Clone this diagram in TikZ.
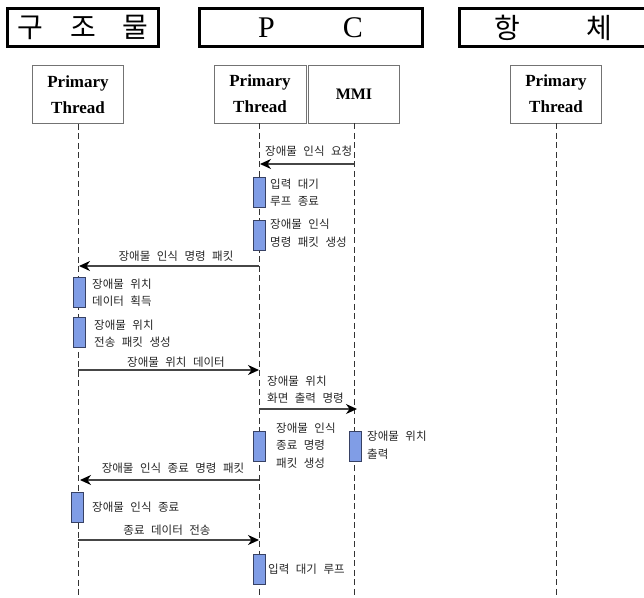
\documentclass[tikz,border=0pt]{standalone}
\usepackage{fontspec}
\setmainfont{Liberation Serif}
\newfontfamily\kr{Noto Sans CJK KR}
\newfontfamily\krhead{Noto Sans CJK KR}
\usetikzlibrary{arrows.meta}
\definecolor{barfill}{RGB}{128,157,230}
\definecolor{bardraw}{RGB}{55,65,100}
\definecolor{msgcol}{RGB}{70,70,70}
\newcommand\lblfont{\kr\fontsize{11.5}{17.5}\selectfont\spaceskip=6.5pt plus 1pt minus 0pt\relax}
\tikzset{
  headbox/.style={draw=black, line width=3pt, inner sep=0pt, minimum height=38pt},
  thread/.style={draw=black!55, line width=0.9pt, minimum width=91pt, minimum height=58pt, inner sep=0pt, align=center, font=\bfseries\fontsize{17}{26}\selectfont},
  lifeline/.style={draw=black!80, line width=0.8pt, dash pattern=on 6pt off 3.5pt},
  actbar/.style={draw=bardraw, line width=0.9pt, fill=barfill, minimum width=12pt, minimum height=30pt, inner sep=0pt},
  msg/.style={draw=msgcol, line width=1.3pt, -{Stealth[length=11pt,width=10pt,inset=3.5pt,color=black,fill=black]}},
  lbl/.style={font=\lblfont, text=black!85, inner sep=0pt, align=left},
}
\begin{document}
\begin{tikzpicture}[x=1pt,y=-1pt]
\useasboundingbox (0,0) rectangle (644,597);
% headers
\node[headbox, minimum width=151pt] (h1) at (83,27.5) {\krhead\fontsize{28}{30}\selectfont 구\hspace{27pt}조\hspace{27pt}물};
\node[headbox, minimum width=223pt] (h2) at (310.5,27.5) {\fontsize{30}{32}\selectfont P\hspace{68pt}C};
\node[headbox, minimum width=188pt] (h3) at (553.5,27.5) {\krhead\fontsize{28}{30}\selectfont 항\hspace{67pt}체};
% lifeline heads
\node[thread] (t1) at (78,94.5) {Primary\\Thread};
\node[thread, minimum width=92pt] (t2) at (260,94) {Primary\\Thread};
\node[thread, font=\bfseries\fontsize{16}{20}\selectfont] (t3) at (354,94) {\raisebox{-2pt}{MMI}};
\node[thread] (t4) at (556,94) {Primary\\Thread};
% lifelines
\coordinate (e1) at (78,597);
\coordinate (e2) at (259,597);
\coordinate (e3) at (354,597);
\coordinate (e4) at (556,597);
\draw[lifeline] (t1.south) -- (e1);
\draw[lifeline] ([xshift=-1pt]t2.south) -- (e2);
\draw[lifeline] (t3.south) -- (e3);
\draw[lifeline] (t4.south) -- (e4);
% message coordinates
\coordinate (m1a) at (354,164); \coordinate (m1b) at (260,164);
\coordinate (m2a) at (259,266); \coordinate (m2b) at (79,266);
\coordinate (m3a) at (78,370);  \coordinate (m3b) at (259,370);
\coordinate (m4a) at (259,409); \coordinate (m4b) at (357,409);
\coordinate (m5a) at (259,480); \coordinate (m5b) at (80,480);
\coordinate (m6a) at (78,540);  \coordinate (m6b) at (259,540);
% activation bars
\node[actbar] (a1) at (259,192.5) {};
\node[actbar] (a2) at (259,235) {};
\node[actbar] (a3) at (79,292.5) {};
\node[actbar] (a4) at (79,332.5) {};
\node[actbar] (a5) at (259,446) {};
\node[actbar] (a6) at (355,446) {};
\node[actbar] (a7) at (77,507) {};
\node[actbar] (a8) at (259,569.5) {};
% messages
\draw[msg] (m1a) -- (m1b);
\draw[msg] (m2a) -- (m2b);
\draw[msg] (m3a) -- (m3b);
\draw[msg] (m4a) -- (m4b);
\draw[msg] (m5a) -- (m5b);
\draw[msg] (m6a) -- (m6b);
% message labels
\node[lbl, anchor=west] (l1) at (265,151) {장애물 인식 요청};
\node[lbl] (l2) at (176,256) {장애물 인식 명령 패킷};
\node[lbl] (l3) at (176,362) {장애물 위치 데이터};
\node[lbl, anchor=west] (l4) at (267,389.5) {장애물 위치\\화면 출력 명령};
\node[lbl] (l5) at (173,468) {장애물 인식 종료 명령 패킷};
\node[lbl] (l6) at (167,530) {종료 데이터 전송};
% activation labels
\node[lbl, anchor=west] (b1) at (270,192.5) {입력 대기\\루프 종료};
\node[lbl, anchor=west] (b2) at (270,233) {장애물 인식\\명령 패킷 생성};
\node[lbl, anchor=west] (b3) at (92,292.5) {장애물 위치\\데이터 획득};
\node[lbl, anchor=west] (b4) at (94,333.5) {장애물 위치\\전송 패킷 생성};
\node[lbl, anchor=west] (b5) at (276,445.5) {장애물 인식\\종료 명령\\패킷 생성};
\node[lbl, anchor=west] (b6) at (367,445) {장애물 위치\\출력};
\node[lbl, anchor=west] (b7) at (92,507) {장애물 인식 종료};
\node[lbl, anchor=west] (b8) at (268,569) {입력 대기 루프};
\end{tikzpicture}
\end{document}
